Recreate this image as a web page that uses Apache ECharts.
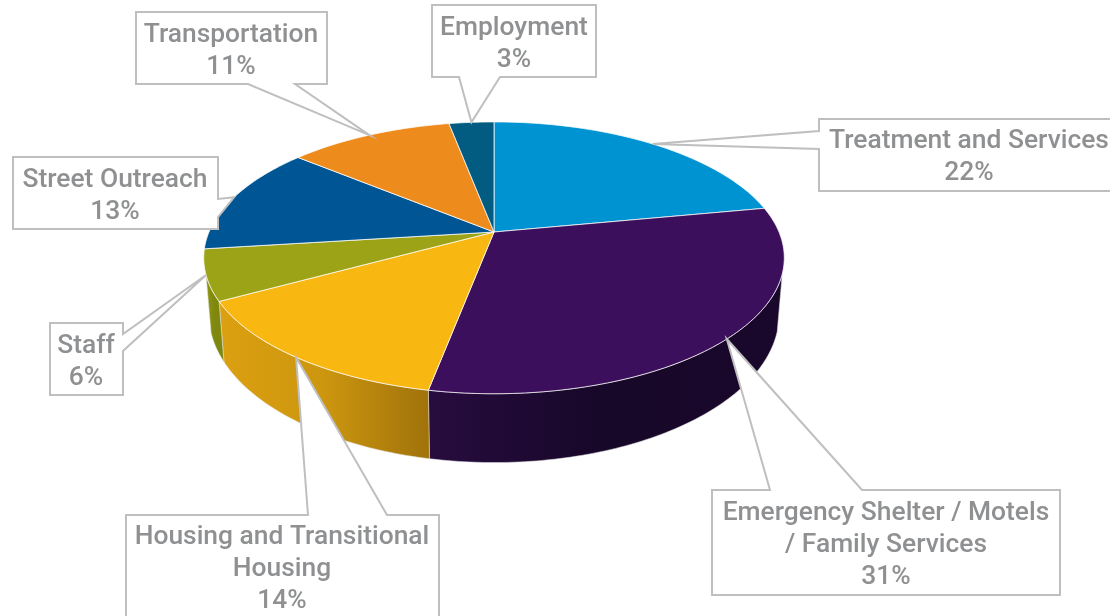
<!DOCTYPE html>
<html>
<head>
<meta charset="utf-8">
<style>html,body{margin:0;padding:0;background:#fff}#c{width:1110px;height:616px}</style>
<script src="https://cdn.jsdelivr.net/npm/echarts@6/dist/echarts.min.js"></script>
</head>
<body>
<div id="c"></div>
<script>
// --- data ---
const categories = ['Treatment and Services','Emergency Shelter / Motels\n/ Family Services','Housing and Transitional\nHousing','Staff','Street Outreach','Transportation','Employment'];
const shares = [22,31,14,6,13,11,3];
// --- styles ---
const topColors = ['#0093d2','#3c0f5c','#f9b712','#9da316','#005695','#ee8b1d','#025b80'];
const wallStops = [null,['#270c3f','#170728','#1a082c'],['#dca010','#cc960f','#a0720a'],['#8e9612','#7f880e','#7f880e'],null,null,null];
// --- projection of the tilted disc ---
const geo = {cx:494, cy:232, r:285, s:131, k:0.19, rb:280, cyb:286, sb:143, wallFrom:107.5, wallTo:252};
function rim(deg, r, cy, s){
  const t = deg*Math.PI/180, u = Math.sin(t), v = Math.cos(t), w = 1 + geo.k*v;
  return [geo.cx + r*u/w, cy - s*v/w];
}
const topPt = d => rim(d, geo.r, geo.cy, geo.s);
const botPt = d => rim(d, geo.rb, geo.cyb, geo.sb);
const total = shares.reduce((a,b)=>a+b,0);
const starts = []; shares.reduce((acc,v,i)=>{starts[i]=acc; return acc+v;},0);
const ang = p => p/total*360;
function arc(fn,a,b){const pts=[],n=Math.max(2,Math.ceil(Math.abs(b-a)));for(let i=0;i<=n;i++)pts.push(fn(a+(b-a)*i/n));return pts;}
// --- callout layout: box [left, top, right, bottom], wedge edge and base span, text centre ---
const callouts = [
 {box:[819,119,1122,191], edge:'left',  span:[131,149], text:[969,157]},
 {box:[712,490,1060,595], edge:'top',   span:[770,862], text:[886,545]},
 {box:[126,515,439,640],  edge:'top',   span:[308,387], text:[282,569]},
 {box:[50,323,123,395],   edge:'right', span:[334,351], text:[86,362]},
 {box:[13,157,218,229],   edge:'right', span:[199,217], text:[115,196]},
 {box:[136,12,327,84],    edge:'bottom',span:[248,295], text:[231,51]},
 {box:[432,5,596,77],     edge:'bottom',span:[459,500], text:[514,44]}
];
function outline(c,tip){
  const [l,t,r,b]=c.box,[a,e]=c.span;
  if(c.edge==='top') return [[l,t],[a,t],tip,[e,t],[r,t],[r,b],[l,b]];
  if(c.edge==='right') return [[l,t],[r,t],[r,a],tip,[r,e],[r,b],[l,b]];
  if(c.edge==='bottom') return [[l,t],[r,t],[r,b],[e,b],tip,[a,b],[l,b]];
  return [[l,t],[r,t],[r,b],[l,b],[l,e],tip,[l,a]];
}
const rows = categories.map((c,i)=>[i,shares[i]]);
const chart = echarts.init(document.getElementById('c'));
chart.setOption({
 animation:false,
 backgroundColor:'#ffffff',
 series:[
  {type:'custom',name:'Side',coordinateSystem:'none',data:rows,z:1,silent:true,
   renderItem(p,api){
     const i=api.value(0), a=Math.max(ang(starts[i]),geo.wallFrom), b=Math.min(ang(starts[i]+api.value(1)),geo.wallTo);
     if(!wallStops[i]||b<=a) return {type:'group',children:[]};
     const st=wallStops[i];
     return {type:'polygon',shape:{points:arc(topPt,a,b).concat(arc(botPt,b,a))},
       style:{fill:new echarts.graphic.LinearGradient(0,0,1,0,[{offset:0,color:st[0]},{offset:.5,color:st[1]},{offset:1,color:st[2]}]),
              stroke:'rgba(225,225,225,.75)',lineWidth:0.7}};
   }},
  {type:'custom',name:'Share',coordinateSystem:'none',data:rows,z:2,silent:true,
   renderItem(p,api){
     const i=api.value(0), a=ang(starts[i]), b=ang(starts[i]+api.value(1));
     return {type:'polygon',shape:{points:[[geo.cx,geo.cy]].concat(arc(topPt,a,b))},
       style:{fill:topColors[i],stroke:'rgba(255,255,255,.75)',lineWidth:1}};
   }},
  {type:'custom',name:'Callouts',coordinateSystem:'none',data:rows,z:3,silent:true,
   renderItem(p,api){
     const i=api.value(0), c=callouts[i], mid=ang(starts[i]+api.value(1)/2);
     return {type:'group',children:[
       {type:'polygon',shape:{points:outline(c,topPt(mid))},style:{fill:'#ffffff',stroke:'#bfbfbf',lineWidth:2,lineJoin:'miter'}},
       {type:'text',style:{x:c.text[0],y:c.text[1],text:categories[i]+'\n'+api.value(1)+'%',align:'center',verticalAlign:'middle',
         fill:'#8f9092',font:'500 26.4px Roboto',lineHeight:32}}
     ]};
   }}
 ]
});
</script>
</body>
</html>
